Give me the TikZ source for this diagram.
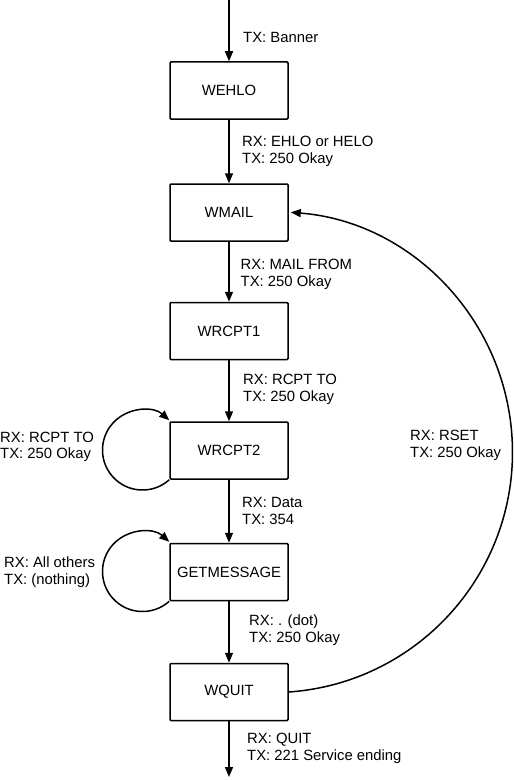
\documentclass[tikz,border=0pt]{standalone}
\usepackage{fontspec}
\setmainfont{Liberation Sans}
\usetikzlibrary{arrows.meta}
\begin{document}
\begin{tikzpicture}[x=1bp,y=-1bp,
  font=\fontsize{14.9}{16.7}\selectfont,
  state/.style={draw,line width=1.5bp,minimum width=118bp,minimum height=57bp,inner sep=0pt,rounded corners=1bp},
  lbl/.style={anchor=north west,inner sep=0pt,align=left},
  conn/.style={line width=1.5bp,-{Triangle[length=10bp,width=8bp]}}]
\fill[white] (0,0) rectangle (514,780);
\useasboundingbox (0,0) rectangle (514,780);

\node[state] (wehlo) at (229,90.5) {WEHLO};
\node[state] (wmail) at (229,212.5) {WMAIL};
\node[state] (wrcpt1) at (229,331) {WRCPT1};
\node[state] (wrcpt2) at (229,450.5) {WRCPT2};
\node[state] (getmsg) at (229,572) {GETMESSAGE};
\node[state] (wquit) at (229,692) {WQUIT};

\coordinate (start) at (229,0);
\coordinate (end) at (229,777);

\draw[conn] (start) -- (wehlo.north);
\draw[conn] (wehlo.south) -- (wmail.north);
\draw[conn] (wmail.south) -- (wrcpt1.north);
\draw[conn] (wrcpt1.south) -- (wrcpt2.north);
\draw[conn] (wrcpt2.south) -- (getmsg.north);
\draw[conn] (getmsg.south) -- (wquit.north);
\draw[conn] (wquit.south) -- (end);

\draw[conn] (wrcpt2.south west) arc[start angle=48,end angle=312,radius=40];
\draw[conn] (getmsg.south west) arc[start angle=48,end angle=312,radius=40];
\draw[conn] (wquit.east) arc[start angle=86,end angle=-85.5,radius=240.5];

\node[lbl] (l0) at (243,32.5) {TX: Banner};
\node[lbl] (l1) at (242,136) {RX: EHLO or HELO\\TX: 250 Okay};
\node[lbl] (l2) at (240.5,259) {RX: MAIL FROM\\TX: 250 Okay};
\node[lbl] (l3) at (243,374) {RX: RCPT TO\\TX: 250 Okay};
\node[lbl] (l4) at (0,431.5) {RX: RCPT TO\\TX: 250 Okay};
\node[lbl] (l5) at (410,430) {RX: RSET\\TX: 250 Okay};
\node[lbl] (l6) at (242,497.5) {RX: Data\\TX: 354};
\node[lbl] (l7) at (4,556.5) {RX: All others\\TX: (nothing)};
\node[lbl] (l8) at (249,614.5) {RX: . (dot)\\TX: 250 Okay};
\node[lbl] (l9) at (247,733) {RX: QUIT\\TX: 221 Service ending};
\end{tikzpicture}
\end{document}
